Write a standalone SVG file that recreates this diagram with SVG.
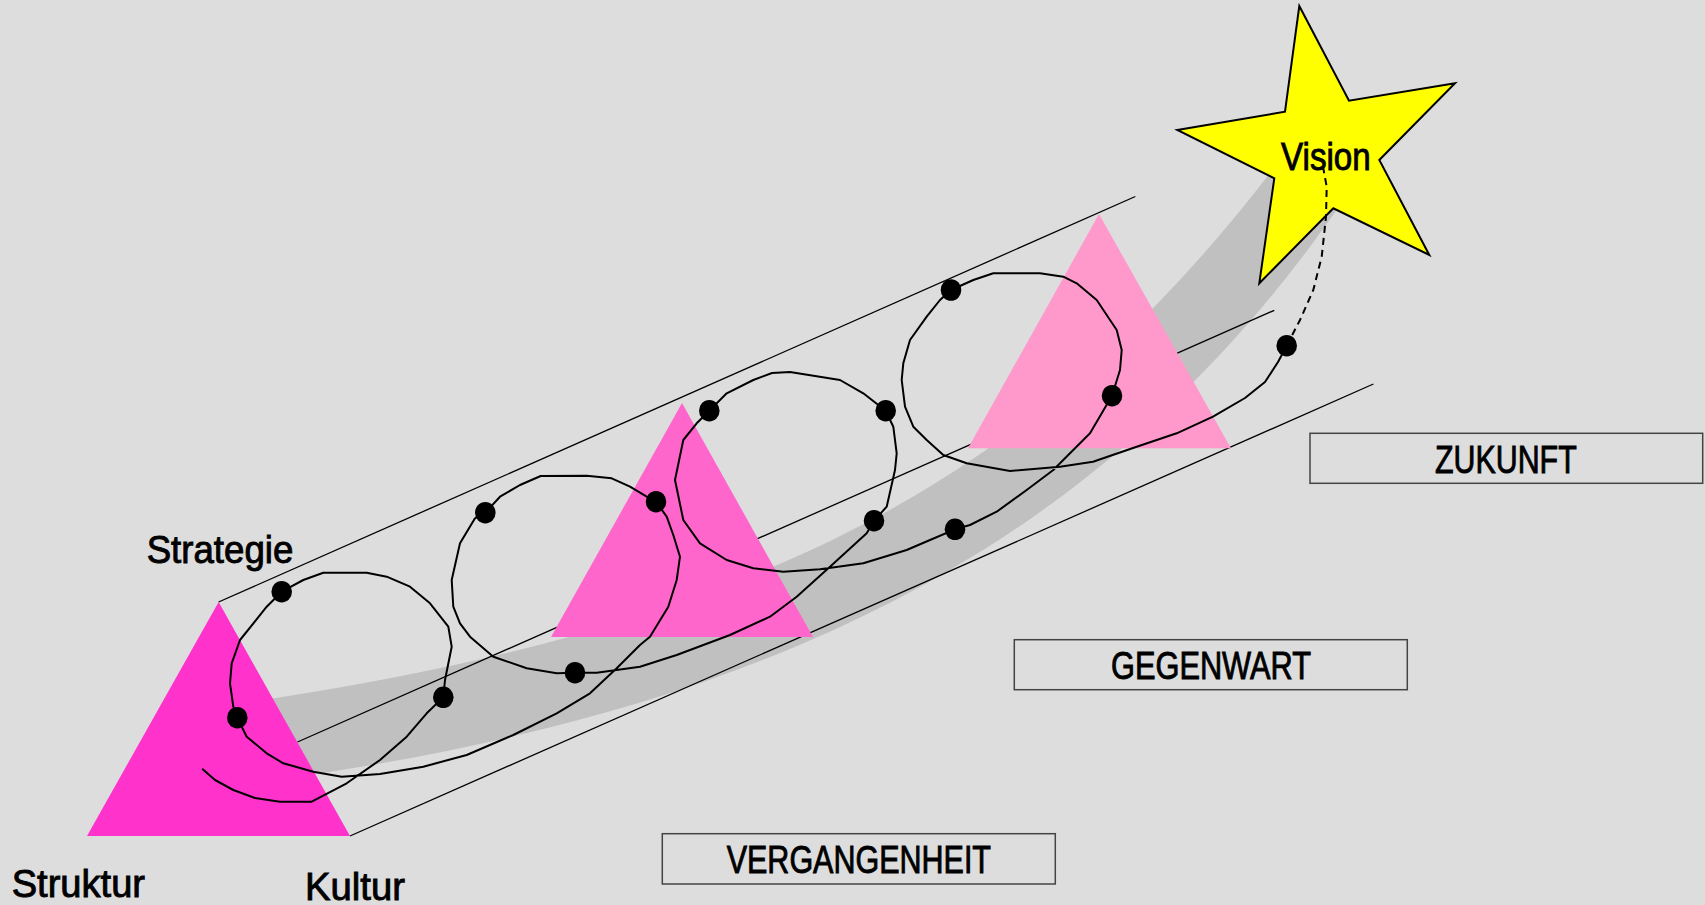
<svg xmlns="http://www.w3.org/2000/svg" width="1705" height="905" viewBox="0 0 1705 905">
<style>
.lbl{font-family:"Liberation Sans",Arial,sans-serif;font-size:38px;fill:#000;stroke:#000;stroke-width:0.9px}
.box{fill:none;stroke:#444;stroke-width:1.5}
.edge{stroke:#000;stroke-width:1.3;fill:none}
.spiral{fill:none;stroke:#000;stroke-width:2;stroke-linejoin:round;stroke-linecap:round}
.dot{fill:#000}
</style>
<rect x="0" y="0" width="1705" height="905" fill="#DDDDDD"/>
<g id="band">
<path d="M250,702 C750,627 1030,490 1280,160 L1340,205 C1090,567.5 740,712.3 290,778 Z" fill="#C0C0C0"/>
</g>
<g id="connectors">
<line class="edge" x1="218.6" y1="602" x2="1135.3" y2="196.5"/>
<line class="edge" x1="297.5" y1="742" x2="1274.3" y2="310.3"/>
<line class="edge" x1="350" y1="836" x2="1373.4" y2="384"/>
</g>
<g id="triangle-past"><polygon points="218.6,602 87,836 350,836" fill="#FF33CC"/></g>
<g id="triangle-present"><polygon points="682,403 551,637 813,637" fill="#FF66CC"/></g>
<g id="triangle-future"><polygon points="1099,214 968,448.3 1231,448.3" fill="#FF99CC"/></g>
<g id="spiral">
<polyline class="spiral" points="202.7,769.3 215,780 233.3,790 255,798 280,801.7 311.7,801.7 346.7,783.3 380,760 406.7,736.7 426.7,713.3 443.3,697.3 445,680 451.7,646.7 448.3,626.7 430,603.3 410,586.7 386.7,576.7 366.7,572.7 323.3,572.7 303.3,580 281.7,591.7 266.7,606.7 240,640 231.7,663.3 230,683.3 233.3,706.7 237.3,717.7 246.7,736.7 266.7,753.3 283.3,763.3 313.3,771.7 341.7,776.7 380,774 423.3,766.7 466.7,755 513.3,735 556.7,713.3 590,693.3 616.7,668.3 640,645 650,636.7 668.3,606.7 676.7,580 680,556.7 673.3,535 666.7,516.7 656,501.7 646.7,496.7 630,486.7 611.7,478.3 586.7,475.7 540.7,476 520,485 500,496.7 485.3,512.7 475,518.3 460,543.3 451.7,580 453.3,606.7 460,623.3 470,636.7 493.3,656.7 526.7,668.3 556.7,673.3 575,672.7 596.7,672.7 640,666.7 676.7,655 730,635 770,616.7 796.7,596.7 830,566.7 866.7,533.3 874,520.7 886.7,506.7 895,470 896.7,453.3 893.3,426.7 885.7,410.7 863.3,393.3 840,380 790,372 772,373 753.3,380 726.7,393.3 709.3,410.7 696.7,423.3 683.3,440 675,480 683.3,520 700,543.3 726.7,560 753.3,568.3 783.3,571.7 820,569.3 863.3,563.3 906.7,550 930,540 955,529.3 970,525 996.7,511.7 1026.7,490 1053.3,470 1060,463.3 1090,433.3 1112,395.7 1120,370 1121.7,350 1116.7,330 1096.7,300 1076.7,283.3 1063.3,276.7 1040,273.3 993.3,273.3 973.3,280 951,290 940,300 926.7,316.7 910,340 903.3,363.3 901.7,380 905,406.7 913.3,426.7 926.7,440 943.3,455 966.7,463.3 1010,471 1060,466.7 1093,461.7 1136.7,446.7 1176.7,433.3 1213,416.7 1245,398 1265,382 1278,362 1286.7,345.7"/>
<ellipse class="dot" cx="443.3" cy="697.3" rx="10.3" ry="10.8"/>
<ellipse class="dot" cx="281.7" cy="591.7" rx="10.3" ry="10.8"/>
<ellipse class="dot" cx="237.3" cy="717.7" rx="10.3" ry="10.8"/>
<ellipse class="dot" cx="656" cy="501.7" rx="10.3" ry="10.8"/>
<ellipse class="dot" cx="485.3" cy="512.7" rx="10.3" ry="10.8"/>
<ellipse class="dot" cx="575" cy="672.7" rx="10.3" ry="10.8"/>
<ellipse class="dot" cx="874" cy="520.7" rx="10.3" ry="10.8"/>
<ellipse class="dot" cx="885.7" cy="410.7" rx="10.3" ry="10.8"/>
<ellipse class="dot" cx="709.3" cy="410.7" rx="10.3" ry="10.8"/>
<ellipse class="dot" cx="955" cy="529.3" rx="10.3" ry="10.8"/>
<ellipse class="dot" cx="1112" cy="395.7" rx="10.3" ry="10.8"/>
<ellipse class="dot" cx="951" cy="290" rx="10.3" ry="10.8"/>
<ellipse class="dot" cx="1286.7" cy="345.7" rx="10.3" ry="10.8"/>
</g>
<g id="star">
<polygon points="1299.3,6 1349,100.7 1455,83.3 1379.3,160 1429.3,255 1333.3,208.3 1259.3,283.3 1274.3,178.3 1177.3,130 1285,111.7" fill="#FFFF00" stroke="#000" stroke-width="2" stroke-linejoin="miter"/>
<text class="lbl" x="1281" y="170" textLength="89.7" lengthAdjust="spacingAndGlyphs" font-size="37">Vision</text>
</g>
<g id="dashed-link">
<path d="M1286.7,345.7 L1300,320 L1313.3,290 L1321.7,256.7 L1326,216.7 L1326.7,186.7 L1323.3,168.3 L1321.7,163.3" fill="none" stroke="#000" stroke-width="2" stroke-dasharray="7,5"/>
</g>
<g id="label-strategie"><text class="lbl" x="146.7" y="563.3" textLength="146.6" lengthAdjust="spacingAndGlyphs">Strategie</text></g>
<g id="label-struktur"><text class="lbl" x="11.7" y="896.7" textLength="133.3" lengthAdjust="spacingAndGlyphs">Struktur</text></g>
<g id="label-kultur"><text class="lbl" x="305" y="900" textLength="100" lengthAdjust="spacingAndGlyphs">Kultur</text></g>
<g id="box-zukunft">
<rect class="box" x="1310" y="433.3" width="392.7" height="50"/>
<text class="lbl" x="1435" y="473.3" font-size="37" textLength="141.7" lengthAdjust="spacingAndGlyphs">ZUKUNFT</text>
</g>
<g id="box-gegenwart">
<rect class="box" x="1014.3" y="639.7" width="393" height="50"/>
<text class="lbl" x="1111" y="679.3" font-size="37" textLength="200" lengthAdjust="spacingAndGlyphs">GEGENWART</text>
</g>
<g id="box-vergangenheit">
<rect class="box" x="662.3" y="833.7" width="393" height="50.3"/>
<text class="lbl" x="726.7" y="872.7" font-size="37" textLength="264.3" lengthAdjust="spacingAndGlyphs">VERGANGENHEIT</text>
</g>
</svg>
